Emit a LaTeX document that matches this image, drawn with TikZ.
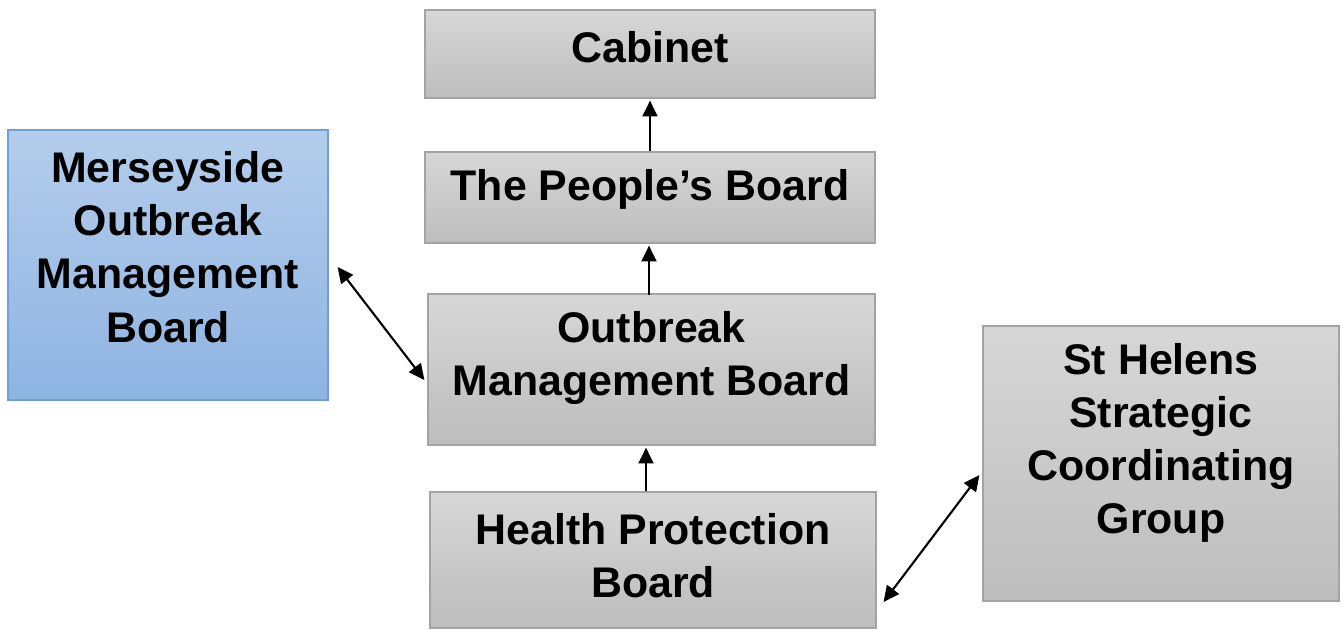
\documentclass[tikz,border=0pt]{standalone}
\usepackage{fontspec}
\setmainfont{Liberation Sans}
\usetikzlibrary{calc, arrows.meta, positioning}

\definecolor{greytop}{HTML}{D7D7D7}
\definecolor{greybot}{HTML}{BDBDBD}
\definecolor{greyedge}{HTML}{A3A3A3}
\definecolor{bluetop}{HTML}{B4CDEC}
\definecolor{bluebot}{HTML}{8EB4E2}
\definecolor{blueedge}{HTML}{6E9FDA}

\tikzset{
  greybox/.style={rectangle, draw=greyedge, line width=0.7pt, top color=greytop, bottom color=greybot, inner sep=0pt},
  bluebox/.style={rectangle, draw=blueedge, line width=0.7pt, top color=bluetop, bottom color=bluebot, inner sep=0pt},
  boxtext/.style={font=\fontsize{24.4}{30.3}\selectfont\bfseries, align=center, inner sep=0pt},
  uparrow/.style={-{Triangle[length=9pt,width=8.5pt]}, line width=1.2pt},
  twoway/.style={{Triangle[length=9pt,width=8.5pt]}-{Triangle[length=9pt,width=8.5pt]}, line width=1.2pt},
}

\begin{document}
\begin{tikzpicture}[x=0.02cm, y=-0.02cm]
\useasboundingbox (0,0) rectangle (1343,630);

% Draw the boxes
\node[greybox, minimum width=9cm, minimum height=1.76cm,
  label={[boxtext, yshift=0.14cm]center:Cabinet}] (cab) at (650,54) {};
\node[greybox, minimum width=9cm, minimum height=1.82cm,
  label={[boxtext, yshift=0.17cm]center:The People’s Board}] (ppl) at (650,197.5) {};
\node[greybox, minimum width=8.94cm, minimum height=3.02cm,
  label={[boxtext, yshift=0.23cm]center:Outbreak\\Management Board}] (omb) at (651.5,369.5) {};
\node[greybox, minimum width=8.92cm, minimum height=2.72cm,
  label={[boxtext, yshift=0.08cm]center:Health Protection\\Board}] (hpb) at (653,560) {};
\node[bluebox, minimum width=6.4cm, minimum height=5.4cm,
  label={[boxtext, yshift=0.36cm]center:Merseyside\\Outbreak\\Management\\Board}] (mob) at (168,265) {};
\node[greybox, minimum width=7.12cm, minimum height=5.5cm,
  label={[boxtext, yshift=0.41cm]center:St Helens\\Strategic\\Coordinating\\Group}] (shsg) at (1161,463.5) {};

% Draw the arrows
\draw[uparrow] (ppl.north) -- ($(cab.south)+(0,2)$);
\draw[uparrow] ($(omb.south)+(-2.5,-151)$) -- ($(ppl.south)+(-1,2)$);
\draw[uparrow] ($(hpb.north)+(-7,0)$) -- ($(omb.south)+(-5.5,2)$);
\draw[twoway] ($(mob.east)+(9,2)$) -- ($(omb.west)+(-3,10.5)$);
\draw[twoway] ($(hpb.east)+(7,42)$) -- ($(shsg.west)+(-3,11.5)$);

\end{tikzpicture}
\end{document}
